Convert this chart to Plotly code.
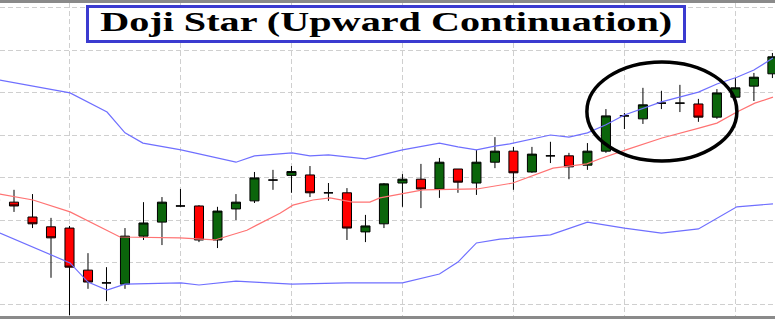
import plotly.graph_objects as go

# ---- data (price units) ----
idx = list(range(43))
opens = [124.7, 124.2, 120.7, 118.4, 118.1, 108.2, 105.2, 104.9, 116.2, 119.5,
         123.3, 123.3, 115.3, 122.6, 124.5, 129.4, 130.5, 130.6, 126.4, 126.4,
         117.2, 119.1, 128.7, 129.6, 127.3, 132.0, 128.7, 133.6, 136.2, 131.3,
         135.1, 135.1, 132.9, 136.2, 144.5, 143.8, 147.5, 147.5, 147.3, 144.2,
         148.9, 151.5, 154.4]
highs = [125.2, 127.1, 126.1, 120.5, 118.6, 112.2, 108.9, 118.1, 124.2, 125.4,
         127.3, 123.5, 123.1, 126.1, 131.3, 131.8, 132.7, 132.7, 128.7, 127.5,
         121.2, 128.7, 130.8, 133.2, 134.6, 132.0, 136.5, 139.5, 137.2, 137.2,
         138.4, 135.8, 138.1, 146.1, 145.2, 151.1, 150.4, 151.8, 148.5, 150.8,
         153.4, 154.6, 159.3]
lows = [124.2, 121.9, 118.1, 106.4, 97.6, 103.8, 100.9, 103.8, 115.3, 114.1,
        123.1, 114.8, 113.4, 120.0, 124.0, 127.1, 126.4, 125.4, 124.5, 115.3,
        114.8, 118.1, 123.1, 122.8, 125.2, 126.4, 125.9, 132.2, 127.1, 131.1,
        133.4, 129.6, 131.8, 135.8, 141.4, 142.6, 146.1, 145.4, 143.1, 143.8,
        145.9, 148.0, 153.4]
closes = [124.7, 123.3, 119.1, 115.8, 108.9, 105.4, 105.2, 116.2, 119.3, 124.2,
          123.3, 115.3, 122.1, 124.2, 129.9, 129.4, 131.4, 126.4, 126.4, 118.1,
          118.6, 128.5, 129.6, 127.3, 133.6, 128.9, 133.6, 136.2, 131.1, 135.5,
          135.1, 132.5, 136.2, 144.5, 144.5, 147.1, 147.5, 147.5, 144.2, 149.9,
          151.1, 153.6, 158.4]

upper_x = [0.24, 4.03, 6.03, 7.0, 7.97, 10.03, 13.0, 14.0, 16.03, 17.0, 18.0,
           19.0, 20.0, 22.0, 24.0, 25.0, 26.0, 27.0, 27.8, 30.0, 31.0, 32.0,
           33.0, 34.0, 36.0, 38.0, 39.0, 40.08, 41.0, 42.03]
upper = [152.9, 149.9, 145.4, 140.5, 138.1, 136.5, 133.6, 135.1, 135.8, 135.1,
         135.3, 134.8, 134.4, 136.5, 138.1, 137.2, 136.5, 137.4, 137.9, 140.0,
         139.5, 140.5, 142.4, 144.7, 147.8, 150.1, 152.0, 153.6, 155.3, 158.1]

lower_x = [0.24, 4.03, 5.0, 6.03, 7.0, 10.03, 11.0, 13.0, 14.0, 16.03, 19.0,
           22.0, 24.0, 25.0, 26.0, 27.27, 30.0, 32.0, 34.0, 36.0, 38.0, 40.08,
           42.03]
lower = [116.9, 109.9, 105.4, 103.5, 104.9, 105.2, 104.7, 105.6, 105.4, 104.9,
         105.2, 105.2, 107.3, 110.1, 114.6, 115.5, 116.5, 119.5, 118.1, 116.9,
         117.9, 123.1, 123.8]

middle_x = [0.24, 2.03, 4.03, 5.65, 6.73, 9.97, 11.86, 13.59, 15.38, 16.08,
            17.16, 18.08, 19.32, 20.24, 20.78, 23.11, 26.03, 27.97, 30.14,
            31.97, 32.68, 34.08, 36.03, 38.03, 39.0, 40.08, 41.05, 42.03]
middle = [126.1, 124.7, 121.9, 118.4, 116.0, 115.8, 115.3, 117.6, 121.6, 123.5,
          124.7, 125.2, 124.2, 124.2, 125.2, 127.1, 127.3, 128.7, 132.2, 133.2,
          134.4, 136.5, 139.3, 141.6, 142.8, 145.4, 147.5, 148.9]

grid_x = [4, 10, 16, 22, 28, 34, 40]
grid_y = [100, 110, 120, 130, 140, 150, 160, 170]
title_text = "Doji Star (Upward Continuation)"
circle_x = [31.97, 40.08]
circle_y = [133.9, 157.2]

band_blue = "#6f6fff"
band_red = "#ff7373"

fig = go.Figure()
fig.add_trace(go.Scatter(x=upper_x, y=upper, mode="lines", line=dict(color=band_blue, width=1.2), hoverinfo="skip"))
fig.add_trace(go.Scatter(x=lower_x, y=lower, mode="lines", line=dict(color=band_blue, width=1.2), hoverinfo="skip"))
fig.add_trace(go.Scatter(x=middle_x, y=middle, mode="lines", line=dict(color=band_red, width=1.2), hoverinfo="skip"))
fig.add_trace(go.Candlestick(
    x=idx, open=opens, high=highs, low=lows, close=closes,
    increasing=dict(fillcolor="#0b650b", line=dict(color="#000000", width=1)),
    decreasing=dict(fillcolor="#ff0000", line=dict(color="#000000", width=1)),
    whiskerwidth=0,
))

fig.add_shape(type="circle", xref="x", yref="y",
              x0=circle_x[0], x1=circle_x[1], y0=circle_y[0], y1=circle_y[1],
              line=dict(color="#000000", width=3.5))

# title box
fig.add_shape(type="rect", xref="paper", yref="paper",
              x0=87.5 / 775, x1=684.5 / 775, y0=(316 - 41.5) / 313, y1=(316 - 6.5) / 313,
              line=dict(color="#3b3bd0", width=3), fillcolor="#ffffff", layer="above")
fig.add_annotation(
    text=title_text, xref="paper", yref="paper",
    x=386 / 775, y=(316 - 22) / 313, xanchor="center", yanchor="middle",
    showarrow=False,
    font=dict(family="Liberation Serif", size=27, color="#000000", weight=700),
)

fig.update_layout(
    width=775, height=320,
    margin=dict(l=0, r=0, t=3, b=4),
    paper_bgcolor="#ffffff", plot_bgcolor="#ffffff",
    showlegend=False,
    xaxis=dict(range=[0.243, 42.14], tickvals=grid_x, showticklabels=False,
               showgrid=True, gridcolor="#cfcfcf", griddash="5px,3px", gridwidth=1,
               zeroline=False, showline=True, mirror=True, linecolor="#8a8a8a",
               linewidth=2.5, rangeslider=dict(visible=False), ticks=""),
    yaxis=dict(range=[97.41, 171.06], tickvals=grid_y, showticklabels=False,
               showgrid=True, gridcolor="#cfcfcf", griddash="5px,3px", gridwidth=1,
               zeroline=False, showline=False, ticks=""),
)

post = """
function stretchTitle(){
  var els = document.querySelectorAll('.annotation-text');
  els.forEach(function(t){
    t.setAttribute('textLength', '572');
    t.setAttribute('lengthAdjust', 'spacingAndGlyphs');
  });
}
stretchTitle();
setTimeout(stretchTitle, 30);
var gd = document.getElementById('{plot_id}');
if (gd && gd.on) { gd.on('plotly_afterplot', stretchTitle); }
"""

fig.write_html("out.html", post_script=post)
